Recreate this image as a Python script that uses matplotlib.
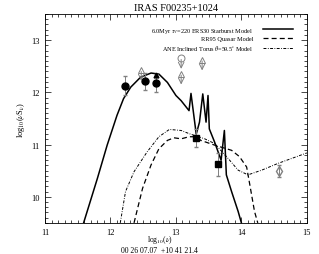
import numpy as np
import matplotlib
matplotlib.use('Agg')
import matplotlib.pyplot as plt
from matplotlib.ticker import MultipleLocator

plt.rcParams['font.family'] = ['Liberation Serif', 'DejaVu Serif']
plt.rcParams['mathtext.fontset'] = 'stix'

# starburst model (solid)
sb_x = [11.59, 11.80, 11.95, 12.10, 12.20, 12.31, 12.46, 12.62, 12.74, 12.87, 13.00, 13.08, 13.20,
        13.23, 13.31, 13.36, 13.41, 13.46, 13.49, 13.51, 13.59, 13.69, 13.74, 13.77, 13.85, 13.95, 14.00]
sb_y = [9.5, 10.35, 10.99, 11.56, 11.88, 12.10, 12.29, 12.37, 12.35, 12.19, 11.94, 11.84, 11.65,
        11.98, 11.20, 11.43, 11.97, 11.43, 11.94, 11.30, 11.05, 10.70, 11.27, 10.42, 10.10, 9.72, 9.5]
# quasar model (dashed)
qso_x = [12.36, 12.49, 12.62, 12.74, 12.87, 12.97, 13.08, 13.20, 13.31, 13.38, 13.59, 13.85, 13.97,
         14.08, 14.13, 14.20, 14.25]
qso_y = [9.5, 10.16, 10.61, 10.92, 11.08, 11.13, 11.11, 11.15, 11.15, 11.08, 10.99, 10.89, 10.77,
         10.57, 10.22, 9.72, 9.5]
# torus model (dash-dot)
tor_x = [12.15, 12.23, 12.36, 12.56, 12.74, 12.90, 13.08, 13.20, 13.44, 13.59, 13.80, 13.95, 14.10,
         14.31, 14.56, 15.0]
tor_y = [9.5, 10.10, 10.48, 10.86, 11.15, 11.29, 11.27, 11.21, 11.11, 11.02, 10.73, 10.51, 10.42,
         10.51, 10.64, 10.84]

# photometry
circ_x = [12.22, 12.52, 12.70]
circ_y = [12.13, 12.21, 12.18]
circ_err = [0.18, 0.17, 0.17]
sq_x = [13.31, 13.65]
sq_y = [11.13, 10.62]
sq_err = [0.17, 0.22]
diam_x = [14.57]
diam_y = [10.49]
diam_err = [0.11]
ftri_x = [12.70]
ftri_y = [12.33]
# upper limits
ul_tri_x = [12.47, 13.08, 13.40]
ul_tri_y = [12.42, 12.35, 12.62]
ul_circ_x = [13.08]
ul_circ_y = [12.65]

fig = plt.figure(figsize=(3.19, 2.55), dpi=100)
ax = fig.add_axes([0.141, 0.122, 0.821, 0.819])

ax.plot(sb_x, sb_y, 'k-', lw=1.1, label=r'6.0Myr $\tau_{V}$=220 ERS30 Starburst Model')
ax.plot(qso_x, qso_y, 'k--', lw=0.9, dashes=(4, 2.5), label='RR95 Quasar Model')
ax.plot(tor_x, tor_y, 'k-.', lw=0.7, dashes=(3, 1.5, 0.8, 1.5), label=r'ANE Inclined Torus $\theta$=59.5$^{\circ}$ Model')

gray = '#808080'
ax.errorbar(circ_x, circ_y, yerr=circ_err, fmt='o', color='k', ms=5, ecolor=gray, elinewidth=0.7, capsize=1.5)
ax.errorbar(sq_x, sq_y, yerr=sq_err, fmt='s', color='k', ms=5, ecolor=gray, elinewidth=0.7, capsize=1.5)
ax.errorbar(diam_x, diam_y, yerr=diam_err, fmt='d', mfc='none', mec=gray, ms=5, ecolor=gray, elinewidth=0.7, capsize=1.5)
ax.plot(ftri_x, ftri_y, '^', color='k', ms=3.5)
ax.plot(ul_tri_x, ul_tri_y, '^', mfc='none', mec=gray, ms=5, mew=0.7)
ax.plot(ul_circ_x, ul_circ_y, 'o', mfc='none', mec=gray, ms=5, mew=0.7)
for x, y in zip(ul_tri_x + ul_circ_x, ul_tri_y + ul_circ_y):
    ax.annotate('', xy=(x, y - 0.2), xytext=(x, y - 0.02),
                arrowprops=dict(arrowstyle='->', color=gray, lw=0.7, shrinkA=0, shrinkB=0))

ax.set_xlim(11, 15)
ax.set_ylim(9.5, 13.5)
ax.xaxis.set_major_locator(MultipleLocator(1))
ax.xaxis.set_minor_locator(MultipleLocator(0.1))
ax.yaxis.set_major_locator(MultipleLocator(1))
ax.yaxis.set_minor_locator(MultipleLocator(0.1))
ax.tick_params(which='both', direction='in', top=True, right=True, labelsize=6, width=0.5, pad=4)
ax.tick_params(which='major', length=4)
ax.tick_params(which='minor', length=2)
for s in ax.spines.values():
    s.set_linewidth(0.6)

ax.set_title('IRAS F00235+1024', fontsize=7.5, pad=3)
fig.text(0.50, 0.060, r'log$_{10}$($\nu$)', fontsize=5.5, ha='center', va='center')
fig.text(0.50, 0.016, '00 26 07.07  +10 41 21.4', fontsize=5.5, ha='center', va='center')
ax.set_ylabel(r'log$_{10}$($\nu$S$_{\nu}$)', fontsize=6, labelpad=3)

ax.legend(loc='upper right', bbox_to_anchor=(0.947, 0.945), fontsize=4.5, frameon=False,
          markerfirst=False, handlelength=4.8, borderaxespad=0, borderpad=0,
          labelspacing=0.25, handletextpad=1.6)

fig.savefig('out.png', dpi=100)
